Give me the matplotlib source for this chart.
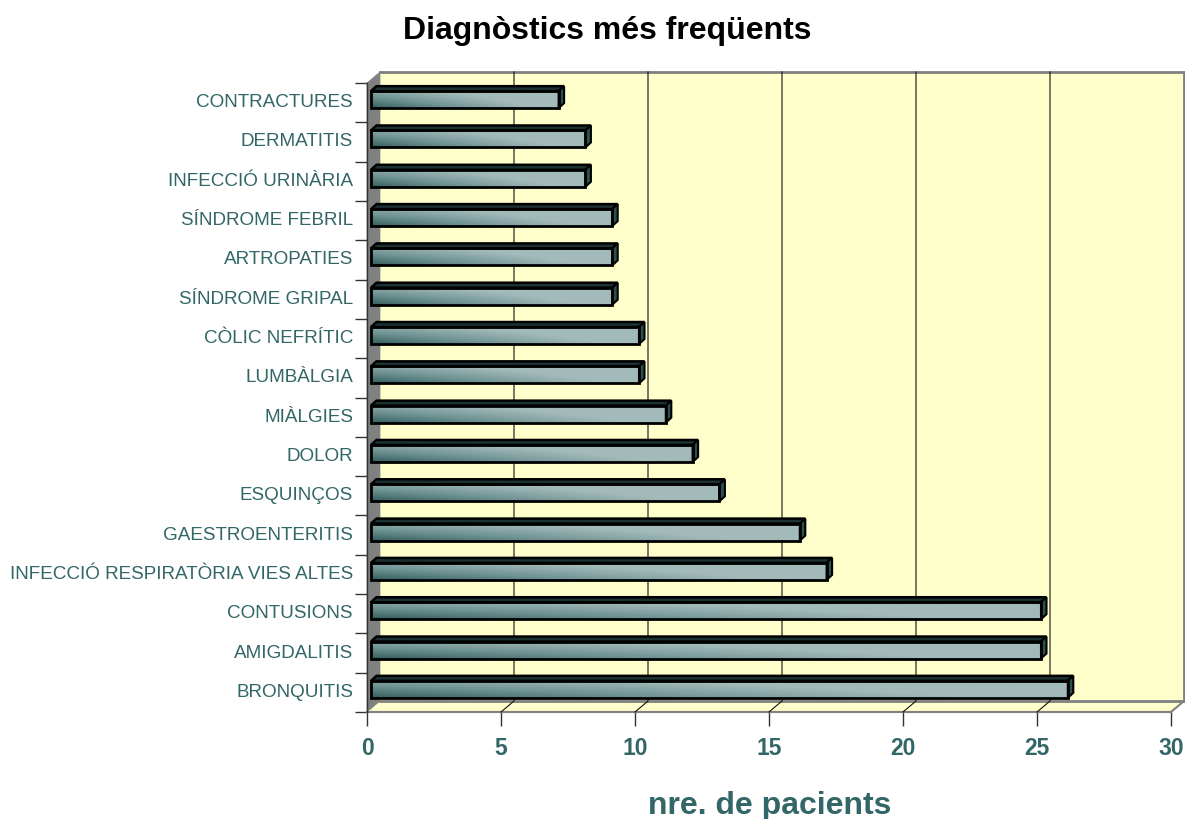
import numpy as np
import matplotlib
matplotlib.use("Agg")
import matplotlib.pyplot as plt
from matplotlib.colors import LinearSegmentedColormap
from matplotlib.patches import Polygon, Rectangle

# bottom to top, as the axis runs
categories = ["BRONQUITIS", "AMIGDALITIS", "CONTUSIONS", "INFECCIÓ RESPIRATÒRIA VIES ALTES",
              "GAESTROENTERITIS", "ESQUINÇOS", "DOLOR", "MIÀLGIES", "LUMBÀLGIA", "CÒLIC NEFRÍTIC",
              "SÍNDROME GRIPAL", "ARTROPATIES", "SÍNDROME FEBRIL", "INFECCIÓ URINÀRIA",
              "DERMATITIS", "CONTRACTURES"]
patients = [26, 25, 25, 17, 16, 13, 12, 11, 10, 10, 9, 9, 9, 8, 8, 7]
x_ticks = [0, 5, 10, 15, 20, 25, 30]

W, H = 1185, 819
TEAL = "#336666"
plt.rcParams["font.family"] = ["Liberation Sans", "DejaVu Sans"]

fig = plt.figure(figsize=(W / 100, H / 100), dpi=100, facecolor="white")
# front plane of the fake 3d box, in pixels
left, right, top, bottom = 367, 1171, 83, 712
ax = fig.add_axes([left / W, 1 - bottom / H, (right - left) / W, (bottom - top) / H])
xmax, ymax = 30, len(categories)
px = xmax / (right - left)
py = ymax / (bottom - top)
dx, dy = 13 * px, 11 * py

# walls
ax.add_patch(Rectangle((dx, dy), xmax, ymax, fc="#ffffcc", ec="none", clip_on=False, zorder=1))
ax.add_patch(Polygon([(0, 0), (xmax, 0), (xmax + dx, dy), (dx, dy)], fc="#ffffcc", ec="none",
                     clip_on=False, zorder=1))
ax.add_patch(Polygon([(0, 0), (dx, dy), (dx, ymax + dy), (0, ymax)], fc="#808080", ec="#808080",
                     lw=0.5, clip_on=False, zorder=1))
ax.plot([dx, xmax + dx, xmax + dx, dx], [ymax + dy, ymax + dy, dy, dy], color="#808080", lw=2,
        clip_on=False, zorder=2, solid_joinstyle="miter")
ax.plot([0, xmax, xmax + dx], [0, 0, dy], color="#808080", lw=1.5, clip_on=False, zorder=2)

# gridlines on the back wall, folding across the floor
for t in x_ticks[1:-1]:
    ax.plot([t + dx, t + dx, t], [ymax + dy, dy, 0], color="#111111", lw=0.8, clip_on=False, zorder=2)

# gradient of a bar face: dark at lower left, light towards the right
cmap = LinearSegmentedColormap.from_list("bar", ["#355f5f", "#6f9292", "#a3baba"])
gy, gx = np.mgrid[0:1:24j, 0:1:200j]

bar_h = 17 * py
shift_x, shift_y = 4 * px, 3 * py
depth_x, depth_y = 5.5 * px, 5 * py

for i, v in enumerate(patients):
    x0 = shift_x
    x1 = v + shift_x
    y0 = i + 0.5 + shift_y - bar_h / 2
    y1 = y0 + bar_h
    grad = np.clip(gx * 1.15 + gy * 0.75 * (1 - gx * 0.6), 0, 1)
    ax.imshow(grad, cmap=cmap, vmin=0, vmax=1, extent=(x0, x1, y0, y1), aspect="auto",
              origin="lower", zorder=4, interpolation="bilinear")
    ax.add_patch(Rectangle((x0, y0), x1 - x0, y1 - y0, fc="none", ec="black", lw=2, zorder=5))
    ax.add_patch(Polygon([(x0, y1), (x0 + depth_x, y1 + depth_y), (x1 + depth_x, y1 + depth_y), (x1, y1)],
                         fc="#1c3232", ec="black", lw=1.8, zorder=4))
    ax.add_patch(Polygon([(x1, y0), (x1 + depth_x, y0 + depth_y), (x1 + depth_x, y1 + depth_y), (x1, y1)],
                         fc="#2b5050", ec="black", lw=1.5, zorder=4))

ax.set_xlim(0, xmax)
ax.set_ylim(0, ymax)
ax.patch.set_visible(False)
for s in ax.spines.values():
    s.set_visible(False)

ax.set_xticks(x_ticks)
ax.set_xticklabels(x_ticks, fontsize=16.5, fontweight="bold", color=TEAL)
ax.tick_params(axis="x", length=10, width=1, color="#333333", pad=8)
ax.set_yticks(range(ymax + 1))
ax.set_yticklabels([""] * (ymax + 1))
ax.tick_params(axis="y", length=9, width=1, color="#333333")
ax.plot([0, 0], [0, ymax], color="#333333", lw=1, clip_on=False, zorder=3)
for i, name in enumerate(categories):
    ax.annotate(name, (0, i + 0.5), xytext=(-14 * 0.72, 0), textcoords="offset points",
                ha="right", va="center", fontsize=13.55, color=TEAL)

fig.text(607 / W, 1 - 31 / H, "Diagnòstics més freqüents", ha="center", va="center",
         fontsize=23, fontweight="bold", color="black")
fig.text(770 / W, 1 - 806 / H, "nre. de pacients", ha="center", va="center",
         fontsize=23, fontweight="bold", color=TEAL)

fig.savefig("out.png", dpi=100, facecolor="white")
